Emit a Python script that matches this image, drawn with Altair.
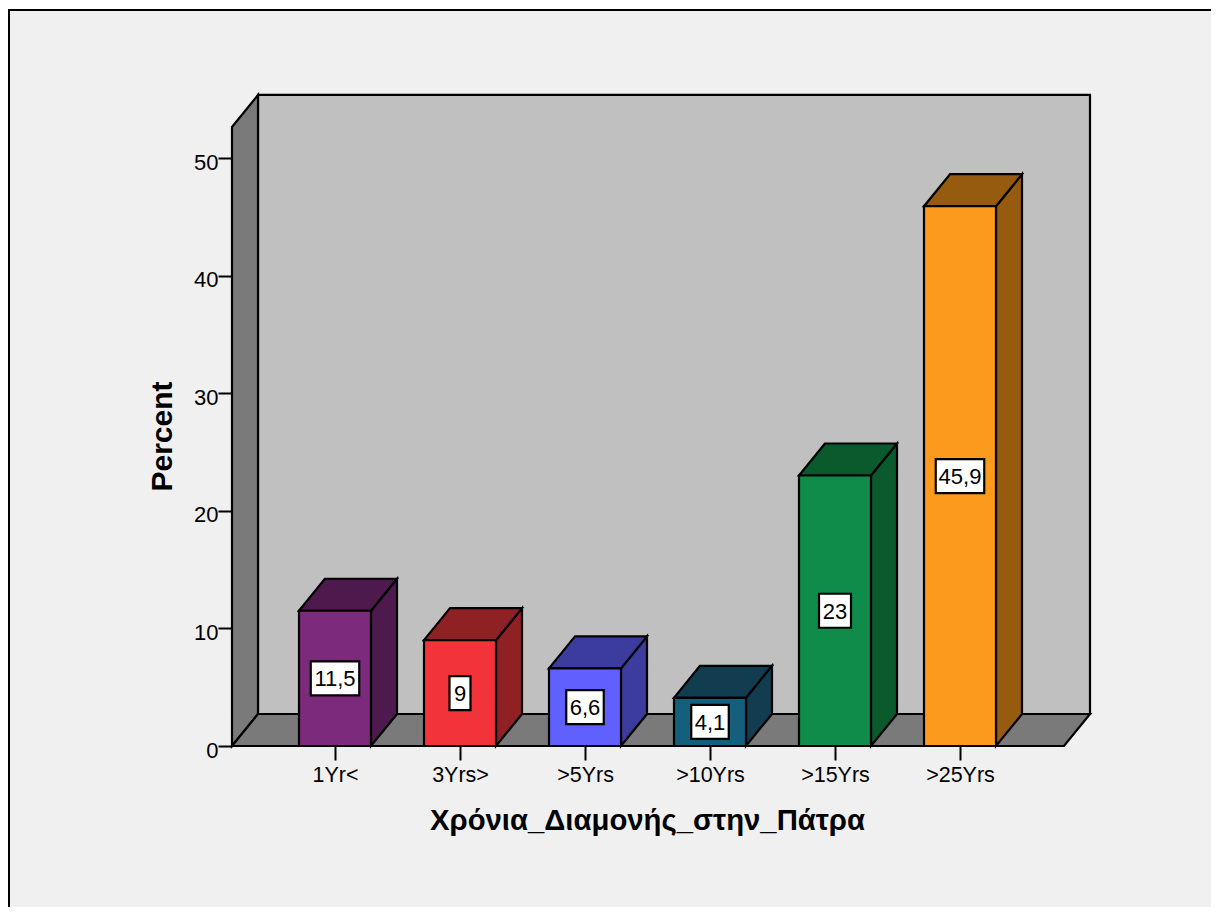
import json
import altair as alt
import pandas as pd

CATEGORIES = ["1Yr<", "3Yrs>", ">5Yrs", ">10Yrs", ">15Yrs", ">25Yrs"]
PERCENT = [11.5, 9, 6.6, 4.1, 23, 45.9]
FRONT = ["#7b2a7c", "#f2333a", "#6060ff", "#145f7c", "#0f8c4a", "#fc9a1e"]
SHADE = ["#4e1a4e", "#8f2024", "#3c3c9f", "#123c4f", "#0a5a2e", "#975b10"]
Y_TICKS = [0, 10, 20, 30, 40, 50]
X_TITLE = "Χρόνια_Διαμονής_στην_Πάτρα"
Y_TITLE = "Percent"

W, H = 1203, 899
FONT = "Liberation Sans"
PX_X, PX_Y = 125.0, 11.76          # pixels per slot, pixels per percent
X0, Y0 = 327.0, 738.0              # pixel position of slot 0 and of 0 percent
DX, DY = 26 / PX_X, 32 / PX_Y      # 3D depth in data units
HALF = 36 / PX_X                   # half bar width
WALL_TOP = 52.64
FLOOR_L, FLOOR_R = -103 / PX_X, 729 / PX_X   # front floor edge relative to slot 0
LW = 2.2

xs = alt.Scale(domain=[-X0 / PX_X, (W - X0) / PX_X], nice=False, zero=False)
ys = alt.Scale(domain=[-(H - Y0) / PX_Y, Y0 / PX_Y], nice=False, zero=False)

x_axis = alt.Axis(
    values=list(range(len(CATEGORIES))),
    labelExpr=f"{json.dumps(CATEGORIES)}[datum.value]",
    offset=Y0 - H, domain=False, grid=False, zindex=1,
    tickSize=14, tickWidth=2, tickColor="black",
    labelFont=FONT, labelFontSize=21.5, labelColor="black", labelPadding=4,
    labelOverlap=False, labelFlush=False, labelBound=False, labelAngle=0,
    title=X_TITLE, titleFont=FONT, titleFontSize=29.3, titleFontWeight="bold",
    titleColor="black", titleX=X0 + 312, titleY=83, titleAlign="center", titleBaseline="alphabetic",
)
y_axis = alt.Axis(
    values=Y_TICKS, offset=-(X0 - 103), domain=False, grid=False, zindex=1,
    tickSize=14, tickWidth=2, tickColor="black",
    labelFont=FONT, labelFontSize=22, labelColor="black", labelPadding=0, labelOffset=4,
    labelOverlap=False, labelFlush=False, labelBound=False,
    title=Y_TITLE, titleFont=FONT, titleFontSize=30, titleFontWeight="bold",
    titleColor="black", titleX=-61, titleY=428, titleAlign="center", titleBaseline="alphabetic", titleAngle=270,
)
X = alt.X("x:Q", scale=xs, axis=x_axis)
Y = alt.Y("y:Q", scale=ys, axis=y_axis)
FILL = alt.Color("fill:N", scale=None, legend=None)

one = pd.DataFrame({"a": [0]})
panel = alt.Chart(one).mark_rect(fill="#f0f0f0").encode(
    x=alt.value(0), x2=alt.value(W), y=alt.value(2), y2=alt.value(H))
frame_l = alt.Chart(one).mark_rule(color="black", strokeWidth=2).encode(
    x=alt.value(1), y=alt.value(2), y2=alt.value(H))
frame_t = alt.Chart(one).mark_rule(color="black", strokeWidth=2).encode(
    y=alt.value(2), x=alt.value(0), x2=alt.value(W))

back = pd.DataFrame({"x": [FLOOR_L + DX], "x2": [FLOOR_R + DX], "y": [WALL_TOP + DY], "y2": [DY], "fill": ["#c0c0c0"]})
back_l = alt.Chart(back).mark_rect(stroke="black", strokeWidth=LW).encode(
    x=X, x2=alt.X2("x2"), y=Y, y2=alt.Y2("y2"), color=FILL)

left = pd.DataFrame({"x": [FLOOR_L, FLOOR_L + DX], "y": [WALL_TOP, WALL_TOP + DY], "y2": [0, DY], "fill": ["#7a7a7a"] * 2})
left_l = alt.Chart(left).mark_area(stroke="black", strokeWidth=LW, orient="vertical").encode(
    x=X, y=Y, y2=alt.Y2("y2"), color=FILL)

floor = pd.DataFrame({"y": [0, DY], "x": [FLOOR_L, FLOOR_L + DX], "x2": [FLOOR_R, FLOOR_R + DX], "fill": ["#7a7a7a"] * 2})
floor_l = alt.Chart(floor).mark_area(stroke="black", strokeWidth=LW, orient="horizontal").encode(
    x=X, x2=alt.X2("x2"), y=Y, color=FILL)

side_rows, top_rows, front_rows, box_rows = [], [], [], []
for i, (v, c, s) in enumerate(zip(PERCENT, FRONT, SHADE)):
    r = i + HALF
    side_rows += [dict(x=r, y=v, y2=0, fill=s), dict(x=r + DX, y=v + DY, y2=DY, fill=s)]
    top_rows += [dict(y=v, x=i - HALF, x2=r, fill=s), dict(y=v + DY, x=i - HALF + DX, x2=r + DX, fill=s)]
    front_rows.append(dict(x=i - HALF, x2=r, y=v, y2=0, fill=c))
    label = f"{v:g}".replace(".", ",")
    w = 10 + 11 * sum(ch.isdigit() for ch in label) + 5.5 * label.count(",")
    box_rows.append(dict(x=i - w / 2 / PX_X, x2=i + w / 2 / PX_X, y=v / 2 + 17 / PX_Y,
                         y2=v / 2 - 17 / PX_Y, cx=i, cy=v / 2, label=label, fill="white"))

side_l = alt.Chart(pd.DataFrame(side_rows)).mark_area(stroke="black", strokeWidth=LW, orient="vertical").encode(
    x=X, y=Y, y2=alt.Y2("y2"), color=FILL)
top_l = alt.Chart(pd.DataFrame(top_rows)).mark_area(stroke="black", strokeWidth=LW, orient="horizontal").encode(
    x=X, x2=alt.X2("x2"), y=Y, color=FILL)
front_l = alt.Chart(pd.DataFrame(front_rows)).mark_rect(stroke="black", strokeWidth=LW).encode(
    x=X, x2=alt.X2("x2"), y=Y, y2=alt.Y2("y2"), color=FILL)
box_df = pd.DataFrame(box_rows)
box_l = alt.Chart(box_df).mark_rect(stroke="black", strokeWidth=LW).encode(
    x=X, x2=alt.X2("x2"), y=Y, y2=alt.Y2("y2"), color=FILL)
text_l = alt.Chart(box_df).mark_text(font=FONT, fontSize=22, color="black", baseline="middle", align="center", dy=1).encode(
    x=alt.X("cx:Q", scale=xs, axis=x_axis), y=alt.Y("cy:Q", scale=ys, axis=y_axis), text="label:N")

chart = alt.layer(
    panel, frame_l, frame_t, back_l, left_l, floor_l, side_l, top_l, front_l, box_l, text_l
).properties(
    width=W, height=H, padding=0, background="white",
    autosize=alt.AutoSizeParams(type="none"),
).configure_view(stroke=None)

chart.save("out.html", embed_options={"renderer": "svg", "actions": False})
